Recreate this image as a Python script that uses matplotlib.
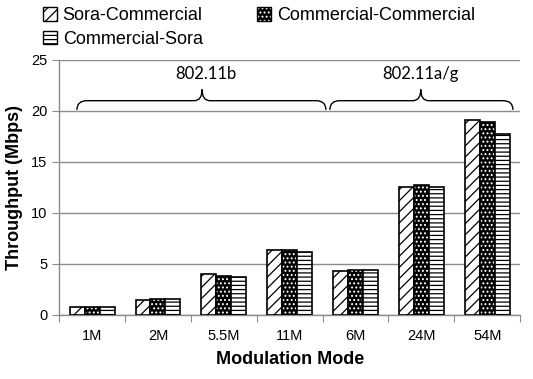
"""
Throughput per modulation mode for the three sender/receiver pairings.
"""

import numpy as np
import matplotlib.pyplot as plt
from matplotlib.patches import Patch, PathPatch
from matplotlib.path import Path
from matplotlib.legend_handler import HandlerTuple

# ── Data ──────────────────────────────────────────────
modes = ["1M", "2M", "5.5M", "11M", "6M", "24M", "54M"]
sora_commercial = [0.8, 1.45, 4.0, 6.35, 4.3, 12.5, 19.1]
commercial_commercial = [0.8, 1.55, 3.8, 6.35, 4.4, 12.75, 18.9]
commercial_sora = [0.8, 1.55, 3.7, 6.2, 4.4, 12.5, 17.7]

groups = ["802.11b", "802.11a/g"]

# ── Style ─────────────────────────────────────────────
plt.rcParams.update({
    'font.family': ['Liberation Sans', 'DejaVu Sans'],
    'hatch.linewidth': 0.9,
})

GRID = '#8c8c8c'


def brace(ax, x0, x1, xm, y0, y1, y2, rx=0.15, rt=0.12):
    verts = [(x0, y0), (x0, y1), (x0 + rx, y1),
             (xm - rt, y1), (xm, y1), (xm, y2),
             (xm, y1), (xm + rt, y1),
             (x1 - rx, y1), (x1, y1), (x1, y0)]
    codes = [Path.MOVETO, Path.CURVE3, Path.CURVE3,
             Path.LINETO, Path.CURVE3, Path.CURVE3,
             Path.CURVE3, Path.CURVE3,
             Path.LINETO, Path.CURVE3, Path.CURVE3]
    ax.add_patch(PathPatch(Path(verts, codes), fill=False,
                           edgecolor='black', linewidth=1.0, zorder=4))


fig = plt.figure(figsize=(5.33, 3.79), dpi=100)
ax = fig.add_axes([0.111, 0.169, 0.865, 0.673])

x = np.arange(len(modes))
w = 0.227

# Sora-Commercial: diagonal hatch
ax.bar(x - w, sora_commercial, w, facecolor='white', edgecolor='black',
       hatch='///', linewidth=1.2, zorder=3)
# Commercial-Commercial: black with white dots
ax.bar(x, commercial_commercial, w, facecolor='black', edgecolor='white',
       hatch='....', linewidth=0, zorder=3)
ax.bar(x, commercial_commercial, w, fill=False, edgecolor='black',
       linewidth=1.2, zorder=3)
# Commercial-Sora: horizontal lines
ax.bar(x + w, commercial_sora, w, facecolor='white', edgecolor='black',
       hatch='----', linewidth=1.2, zorder=3)

# Axes
ax.set_xlim(-0.5, len(modes) - 0.5)
ax.set_ylim(0, 25)
ax.set_yticks(range(0, 26, 5))
ax.set_xticks(np.arange(-0.5, len(modes), 1.0))
ax.set_xticklabels([])
ax.set_xticks(x, minor=True)
ax.set_xticklabels(modes, minor=True)
ax.tick_params(axis='x', which='major', length=5, color=GRID, direction='out')
ax.tick_params(axis='x', which='minor', length=0, pad=10, labelsize=10.5)
ax.tick_params(axis='y', length=5, color=GRID, labelsize=10.5)

ax.yaxis.grid(True, color=GRID, linewidth=1.0, zorder=0)
ax.set_axisbelow(True)
for s in ['top', 'right']:
    ax.spines[s].set_visible(False)
for s in ['left', 'bottom']:
    ax.spines[s].set_color(GRID)
    ax.spines[s].set_linewidth(1.0)

ax.set_xlabel("Modulation Mode", fontsize=13, fontweight='bold', labelpad=6)
ax.set_ylabel("Throughput (Mbps)", fontsize=13, fontweight='bold', labelpad=6)

# Braces and standard labels
brace(ax, -0.23, 3.55, 1.67, 20.1, 21.0, 22.1)
brace(ax, 3.61, 6.39, 4.99, 20.1, 21.0, 22.1)
ax.text(1.73, 23.6, groups[0], ha='center', va='center', fontsize=12,
        family=['Lato', 'DejaVu Sans'])
ax.text(4.98, 23.6, groups[1], ha='center', va='center', fontsize=12,
        family=['Lato', 'DejaVu Sans'])

# Legend (column-major fill: col 1 = Sora-Commercial, Commercial-Sora)
h1 = Patch(facecolor='white', edgecolor='black', hatch='///')
h2 = (Patch(facecolor='black', edgecolor='white', hatch='....', linewidth=0),
      Patch(fill=False, edgecolor='black'))
h3 = Patch(facecolor='white', edgecolor='black', hatch='----')
fig.legend([h1, h3, h2],
           ["Sora-Commercial", "Commercial-Sora", "Commercial-Commercial"],
           handler_map={tuple: HandlerTuple(ndivide=1)},
           loc='upper left', bbox_to_anchor=(0.06, 1.01), ncol=2,
           frameon=False, fontsize=13, handlelength=0.8, handleheight=0.8,
           handletextpad=0.3, columnspacing=3.0, labelspacing=0.35,
           borderaxespad=0.2)

fig.savefig("out.png", dpi=100, facecolor='white')
